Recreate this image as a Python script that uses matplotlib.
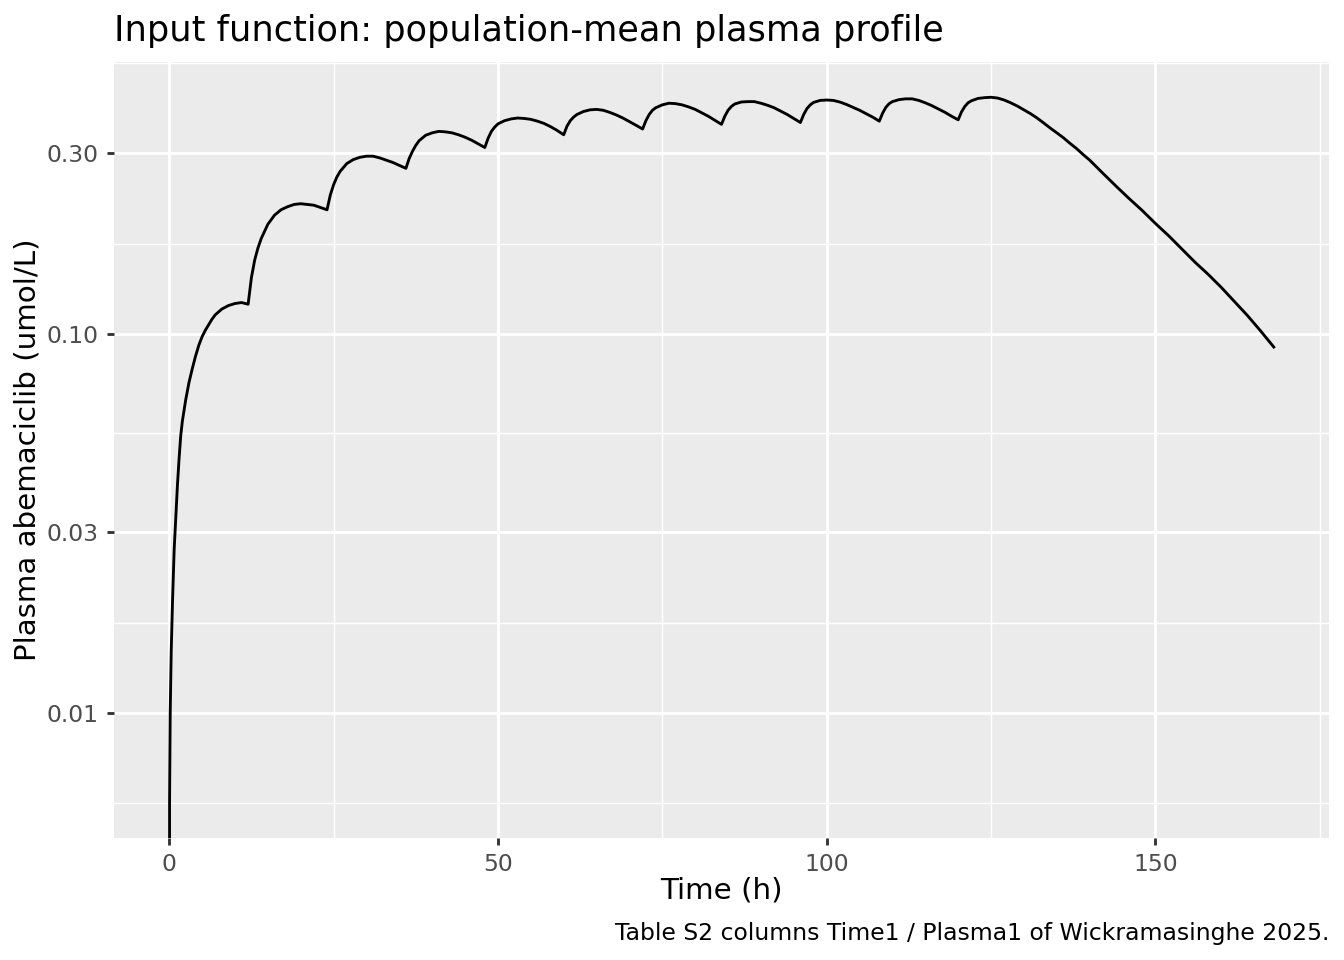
import numpy as np
import matplotlib.pyplot as plt

# plasma profile (Time1 / Plasma1), t=0 value is 0
time_h = [
    0, 0.05, 0.15, 0.3, 0.5, 0.75, 1.0, 1.25, 1.5, 1.75, 2.0, 2.5, 3.0, 3.5,
    4.0, 4.5, 5.0, 5.5, 6.0, 6.5, 7.0, 8.0, 9.0, 10.0, 11.0, 12.0,
    12.5, 13.0, 13.5, 14.0, 15.0, 16.0, 17.0, 18.0, 19.0, 20.0, 21.0, 22.0, 23.0, 24.0,
    24.5, 25.0, 25.5, 26.0, 27.0, 28.0, 29.0, 30.0, 31.0, 32.0, 33.0, 34.0, 35.0, 36.0,
    36.5, 37.0, 37.5, 38.0, 39.0, 40.0, 41.0, 42.0, 43.0, 44.0, 45.0, 46.0, 47.0, 48.0,
    48.5, 49.0, 49.5, 50.0, 51.0, 52.0, 53.0, 54.0, 55.0, 56.0, 57.0, 58.0, 59.0, 60.0,
    60.5, 61.0, 61.5, 62.0, 63.0, 64.0, 65.0, 66.0, 67.0, 68.0, 69.0, 70.0, 71.0, 72.0,
    72.5, 73.0, 73.5, 74.0, 75.0, 76.0, 77.0, 78.0, 79.0, 80.0, 81.0, 82.0, 83.0, 84.0,
    84.5, 85.0, 85.5, 86.0, 87.0, 88.0, 89.0, 90.0, 91.0, 92.0, 93.0, 94.0, 95.0, 96.0,
    96.5, 97.0, 97.5, 98.0, 99.0, 100.0, 101.0, 102.0, 103.0, 104.0, 105.0, 106.0, 107.0, 108.0,
    108.5, 109.0, 109.5, 110.0, 111.0, 112.0, 113.0, 114.0, 115.0, 116.0, 117.0, 118.0, 119.0, 120.0,
    120.5, 121.0, 121.5, 122.0, 123.0, 124.0, 125.0, 126.0, 127.0, 128.0, 129.0, 130.0,
    131.0, 132.0, 133.0, 134.0, 135.0, 136.0, 137.0, 138.0, 139.0, 140.0,
    142.0, 144.0, 146.0, 148.0, 150.0, 152.0, 154.0, 156.0, 158.0, 160.0,
    162.0, 164.0, 166.0, 168.0,
]
plasma = [
    0.0, 0.0058, 0.0100, 0.0145, 0.0197, 0.027, 0.033, 0.040, 0.047, 0.054, 0.059, 0.067, 0.0745, 0.081,
    0.0875, 0.0935, 0.0985, 0.1025, 0.106, 0.1095, 0.1125, 0.1165, 0.119, 0.1205, 0.1212, 0.120,
    0.141, 0.157, 0.169, 0.179, 0.195, 0.206, 0.213, 0.217, 0.220, 0.221, 0.220, 0.219, 0.216, 0.213,
    0.233, 0.248, 0.260, 0.269, 0.282, 0.289, 0.293, 0.295, 0.295, 0.292, 0.288, 0.284, 0.279, 0.274,
    0.291, 0.304, 0.315, 0.324, 0.335, 0.340, 0.343, 0.342, 0.340, 0.336, 0.331, 0.325, 0.318, 0.311,
    0.329, 0.343, 0.352, 0.359, 0.366, 0.370, 0.372, 0.371, 0.369, 0.365, 0.360, 0.353, 0.345, 0.336,
    0.354, 0.366, 0.374, 0.380, 0.387, 0.391, 0.392, 0.390, 0.385, 0.379, 0.372, 0.364, 0.356, 0.348,
    0.366, 0.380, 0.390, 0.396, 0.403, 0.407, 0.406, 0.403, 0.398, 0.392, 0.384, 0.376, 0.367, 0.358,
    0.376, 0.390, 0.399, 0.405, 0.410, 0.411, 0.411, 0.407, 0.402, 0.396, 0.388, 0.380, 0.371, 0.362,
    0.380, 0.394, 0.403, 0.409, 0.414, 0.415, 0.414, 0.410, 0.404, 0.397, 0.390, 0.382, 0.374, 0.365,
    0.383, 0.397, 0.406, 0.411, 0.416, 0.418, 0.418, 0.414, 0.408, 0.401, 0.393, 0.385, 0.376, 0.368,
    0.386, 0.399, 0.408, 0.413, 0.419, 0.421, 0.422, 0.420, 0.415, 0.408, 0.400, 0.391,
    0.382, 0.372, 0.361, 0.350, 0.340, 0.330, 0.319, 0.309, 0.298, 0.288,
    0.266, 0.246, 0.228, 0.212, 0.196, 0.182, 0.168, 0.155, 0.144, 0.133,
    0.122, 0.112, 0.102, 0.0925,
]

y_ticks = [0.01, 0.03, 0.10, 0.30]
y_tick_labels = ["0.01", "0.03", "0.10", "0.30"]
x_ticks = [0, 50, 100, 150]
x_minor = [25, 75, 125, 175]

title = "Input function: population-mean plasma profile"
xlab = "Time (h)"
ylab = "Plasma abemaciclib (umol/L)"
caption = "Table S2 columns Time1 / Plasma1 of Wickramasinghe 2025."

plt.rcParams["font.family"] = ["DejaVu Sans"]

W, H = 1344, 960
fig = plt.figure(figsize=(7, 5), dpi=192)
ax = fig.add_axes([114 / W, 1 - 838 / H, (1329 - 114) / W, (838 - 62) / H])
ax.set_facecolor("#EBEBEB")
for s in ax.spines.values():
    s.set_visible(False)

t = np.array(time_h)
c = np.array(plasma)
ax.set_yscale("log", nonpositive="clip")
ax.plot(t, c, color="black", lw=1.07, solid_joinstyle="round", zorder=3)

# ggplot-like expansion (5%) on finite data
lc = np.log10(c[c > 0])
lr = lc.max() - lc.min()
ax.set_ylim(10 ** (lc.min() - 0.05 * lr), 10 ** (lc.max() + 0.05 * lr))
xr = t.max() - t.min()
ax.set_xlim(t.min() - 0.05 * xr, t.max() + 0.05 * xr)

# grid: major + minor (midpoints in log space, like scale_y_log10)
ax.grid(False)
for v in x_ticks:
    ax.axvline(v, color="white", lw=1.07, zorder=1)
for v in x_minor:
    ax.axvline(v, color="white", lw=0.53, zorder=1)
lt = np.log10(y_ticks)
ext = np.concatenate([[2 * lt[0] - lt[1]], lt, [2 * lt[-1] - lt[-2]]])
minor = 10 ** ((ext[:-1] + ext[1:]) / 2)
for v in y_ticks:
    ax.axhline(v, color="white", lw=1.07, zorder=1)
for v in minor:
    ax.axhline(v, color="white", lw=0.53, zorder=1)

ax.yaxis.set_minor_locator(plt.NullLocator())
ax.set_yticks(y_ticks)
ax.set_yticklabels(y_tick_labels)
ax.set_xticks(x_ticks)
ax.set_xticklabels([str(v) for v in x_ticks])
ax.tick_params(axis="both", which="major", length=2.75, width=1.07, color="#333333",
               labelsize=8.8, labelcolor="#4D4D4D", pad=3)

fig.text(114 / W, 1 - 41 / H, title, fontsize=13.2, ha="left", va="baseline")
fig.text((114 + 1329) / 2 / W, 1 - 899 / H, xlab, fontsize=11, ha="center", va="baseline")
fig.text(28 / W, 1 - 450 / H, ylab, fontsize=11, ha="center", va="center", rotation=90)
fig.text(1329 / W, 1 - 940 / H, caption, fontsize=8.8, ha="right", va="baseline")

fig.savefig("out.png", dpi=192)
